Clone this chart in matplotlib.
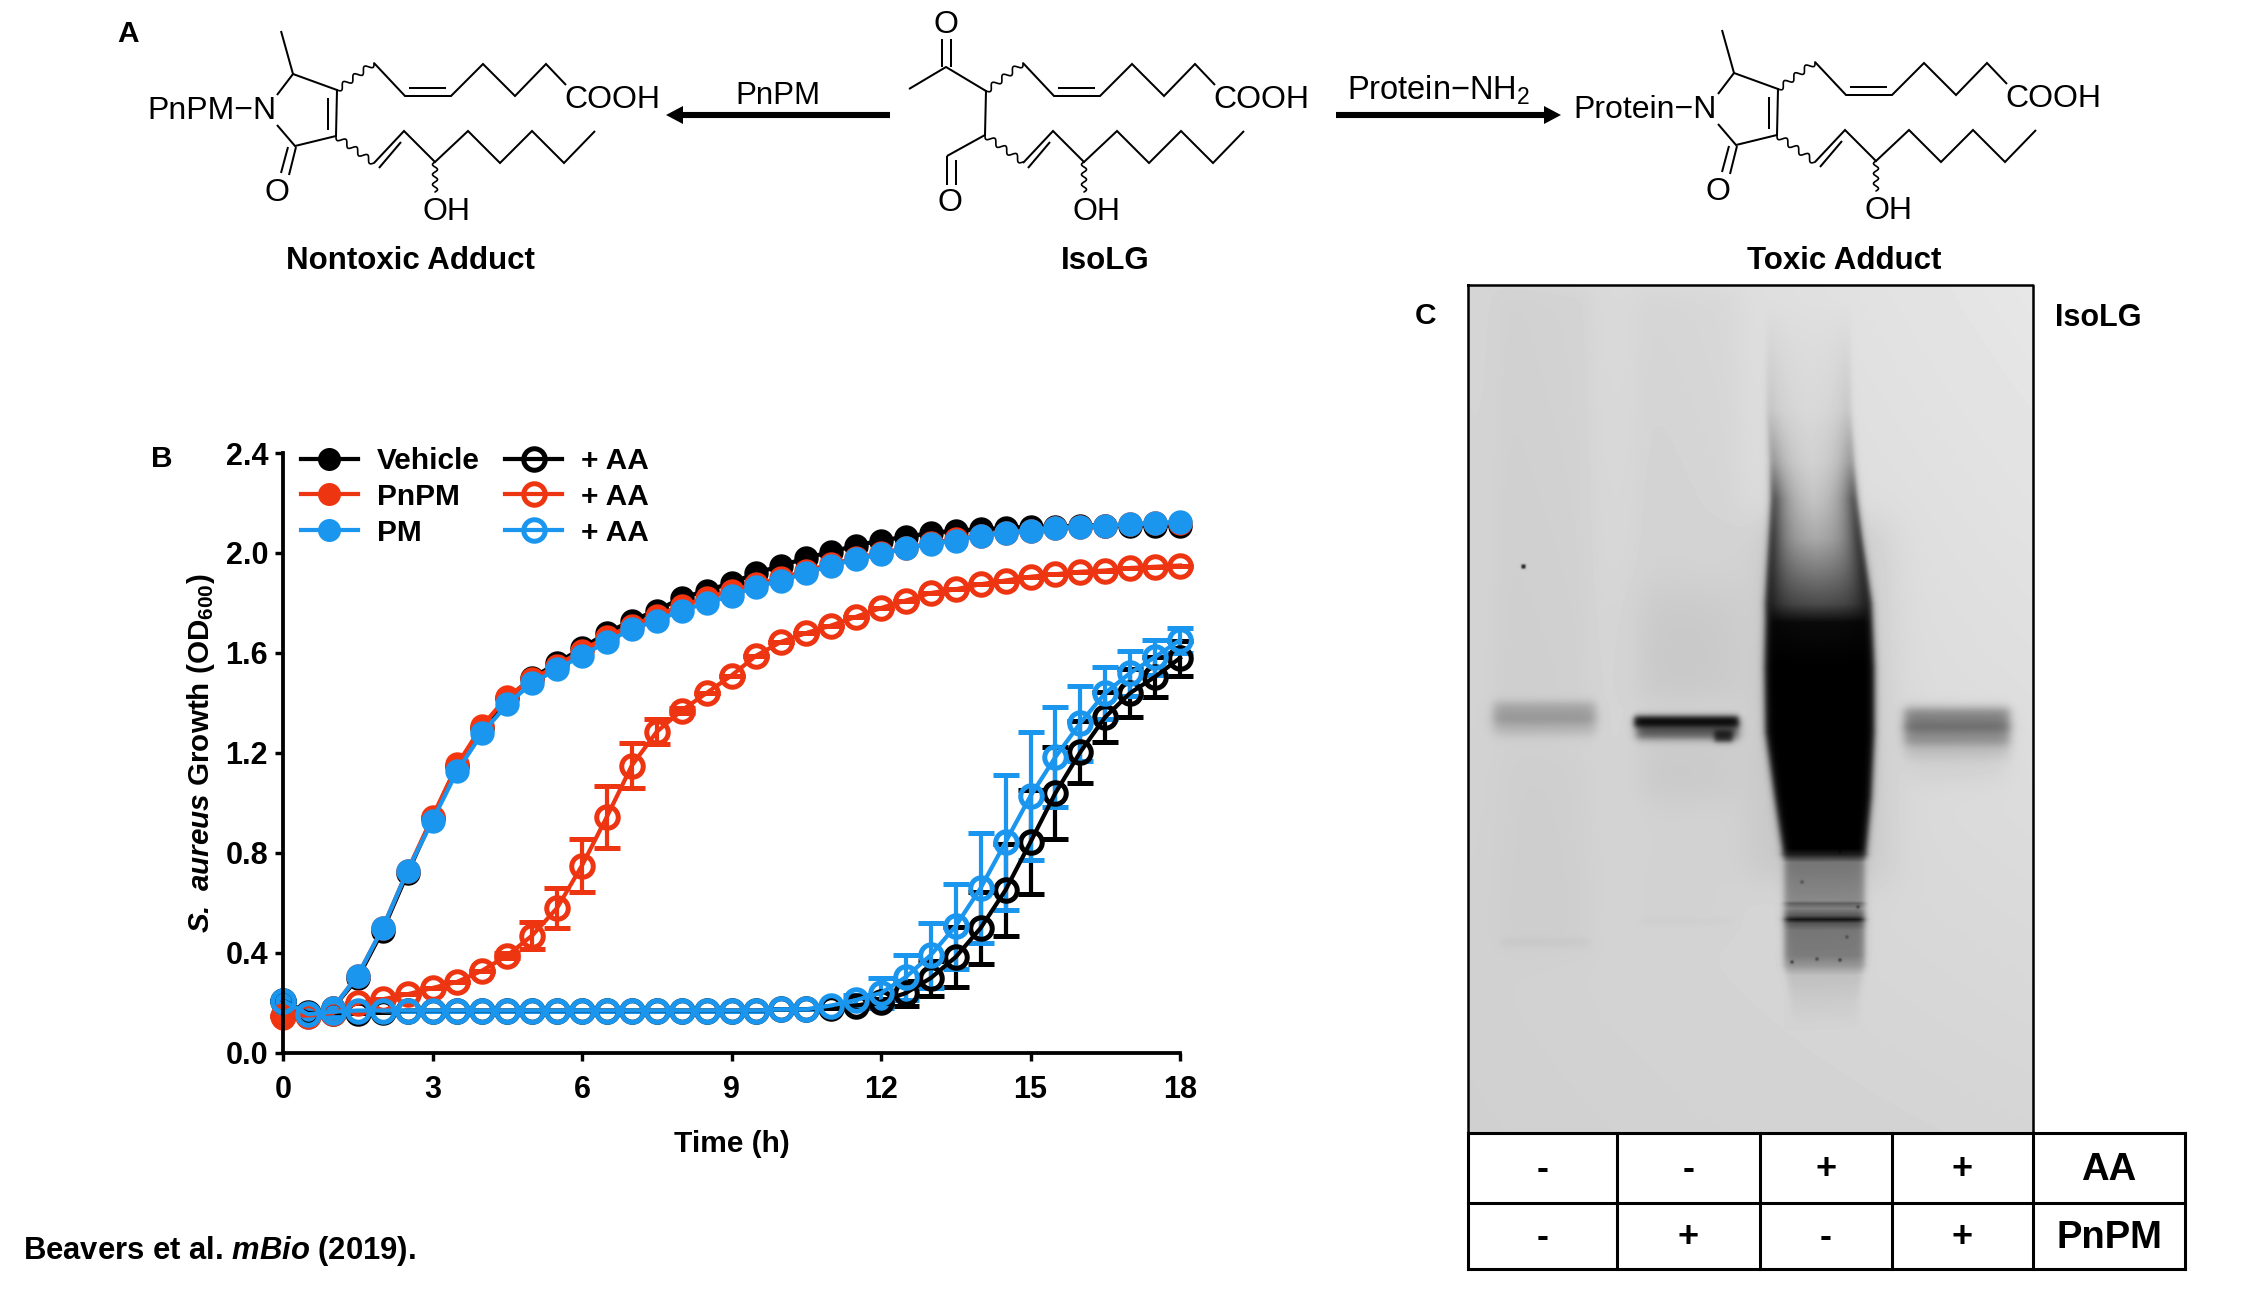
#!/usr/bin/env python3
"""Three panel figure: IsoLG chemistry (A), S. aureus growth curves (B), blot (C)."""

import numpy as np
import matplotlib
matplotlib.use("Agg")
import matplotlib.pyplot as plt
from matplotlib.lines import Line2D
from matplotlib.patches import Polygon

plt.rcParams["font.family"] = ["Liberation Sans", "DejaVu Sans"]
plt.rcParams["mathtext.fontset"] = "custom"
plt.rcParams["mathtext.rm"] = "Liberation Sans"
plt.rcParams["mathtext.bf"] = "Liberation Sans:bold"
plt.rcParams["mathtext.bfit"] = "Liberation Sans:italic:bold"
plt.rcParams["mathtext.it"] = "Liberation Sans:italic:bold"

W, H = 2250, 1291

# --------------------------------------------------------------------------
# Panel B data
# --------------------------------------------------------------------------

HOURS = [i * 0.5 for i in range(37)]

VEHICLE = [0.21, 0.15, 0.18, 0.30, 0.49, 0.72, 0.94, 1.15, 1.30, 1.42, 1.50, 1.56, 1.62,
           1.68, 1.73, 1.77, 1.82, 1.85, 1.88, 1.92, 1.95, 1.98, 2.005, 2.03, 2.05, 2.065,
           2.08, 2.09, 2.095, 2.10, 2.105, 2.105, 2.11, 2.11, 2.11, 2.11, 2.11]
PNPM = [0.14, 0.15, 0.18, 0.31, 0.50, 0.73, 0.945, 1.155, 1.31, 1.425, 1.495, 1.55, 1.61,
        1.665, 1.71, 1.75, 1.79, 1.82, 1.85, 1.875, 1.90, 1.93, 1.955, 1.98, 2.00, 2.02,
        2.04, 2.055, 2.07, 2.08, 2.09, 2.10, 2.105, 2.11, 2.115, 2.12, 2.12]
PM = [0.20, 0.145, 0.18, 0.31, 0.50, 0.73, 0.93, 1.13, 1.28, 1.395, 1.48, 1.535, 1.59,
      1.645, 1.695, 1.73, 1.77, 1.80, 1.83, 1.865, 1.89, 1.92, 1.95, 1.975, 1.995, 2.02,
      2.035, 2.05, 2.07, 2.08, 2.09, 2.10, 2.105, 2.11, 2.115, 2.12, 2.125]

VEHICLE_AA = [0.21, 0.16, 0.16, 0.16, 0.165, 0.17, 0.17, 0.17, 0.17, 0.17, 0.17, 0.17, 0.17,
              0.17, 0.17, 0.17, 0.17, 0.17, 0.17, 0.17, 0.175, 0.175, 0.18, 0.19, 0.205, 0.24,
              0.30, 0.384, 0.50, 0.652, 0.844, 1.04, 1.204, 1.344, 1.44, 1.505, 1.58]
VEHICLE_AA_ERR = [0, 0, 0, 0, 0, 0, 0, 0, 0, 0, 0, 0, 0, 0, 0, 0, 0, 0, 0, 0, 0, 0, 0, 0, 0.01,
                  0.05, 0.07, 0.12, 0.145, 0.185, 0.208, 0.185, 0.125, 0.10, 0.095, 0.08, 0.07]
PNPM_AA = [0.15, 0.15, 0.16, 0.20, 0.215, 0.235, 0.26, 0.285, 0.33, 0.39, 0.47, 0.58, 0.75,
           0.945, 1.15, 1.285, 1.37, 1.44, 1.51, 1.59, 1.645, 1.68, 1.71, 1.745, 1.78, 1.81,
           1.84, 1.855, 1.875, 1.89, 1.905, 1.915, 1.925, 1.93, 1.94, 1.945, 1.95]
PNPM_AA_ERR = [0, 0, 0, 0, 0, 0, 0, 0, 0, 0.01, 0.055, 0.08, 0.105, 0.125, 0.09, 0.05, 0.01,
               0, 0, 0, 0, 0, 0, 0, 0, 0, 0, 0, 0, 0, 0, 0, 0, 0, 0, 0, 0]
PM_AA = [0.21, 0.155, 0.165, 0.17, 0.17, 0.17, 0.17, 0.17, 0.17, 0.17, 0.17, 0.17, 0.17,
         0.17, 0.17, 0.17, 0.17, 0.17, 0.17, 0.17, 0.175, 0.175, 0.19, 0.212, 0.24, 0.304,
         0.392, 0.508, 0.66, 0.844, 1.028, 1.184, 1.32, 1.44, 1.52, 1.584, 1.652]
PM_AA_ERR = [0, 0, 0, 0, 0, 0, 0, 0, 0, 0, 0, 0, 0, 0, 0, 0, 0, 0, 0, 0, 0, 0, 0, 0.02, 0.06,
             0.09, 0.13, 0.17, 0.22, 0.27, 0.255, 0.20, 0.15, 0.105, 0.09, 0.07, 0.05]

X_TICKS = [0, 3, 6, 9, 12, 15, 18]
Y_TICKS = [0.0, 0.4, 0.8, 1.2, 1.6, 2.0, 2.4]

BLACK, RED, BLUE = "#000000", "#EE3512", "#1A96EE"

# Panel C table
TABLE_X = [1468, 1617, 1760, 1892, 2033, 2185]
TABLE_Y = [1133, 1203, 1269]
AA_SIGNS = ["-", "-", "+", "+"]
PNPM_SIGNS = ["-", "+", "-", "+"]

# Blot: x0, x1, y0, y1, darkness, edge softness (all in figure pixels)
BLOT_BOX = (1468, 2033, 285, 1133)
BLOT_BANDS = [
    (1495, 1590, 290, 700, 0.025, 12),
    (1636, 1738, 290, 700, 0.025, 14),
    (1500, 1590, 740, 950, 0.025, 22),
    (1640, 1735, 590, 705, 0.05, 28),
    (1640, 1735, 735, 800, 0.06, 20),
    (1640, 1735, 800, 930, 0.015, 20),
    (1500, 1590, 938, 946, 0.035, 4),
    (1640, 1735, 918, 924, 0.02, 3),
    (1910, 2005, 745, 780, 0.05, 14),
    (1745, 1890, 520, 880, 0.07, 22),
    (1493, 1595, 702, 722, 0.24, 6),
    (1493, 1595, 716, 734, 0.16, 7),
    (1634, 1738, 716, 726, 1.00, 3.5),
    (1636, 1738, 720, 738, 0.60, 5),
    (1714, 1732, 730, 741, 0.75, 3),
    (1904, 2009, 708, 730, 0.42, 6),
    (1904, 2009, 724, 744, 0.34, 6),
    (1904, 2009, 740, 758, 0.10, 7),
    # specks
    (1521, 1525, 564, 568, 0.85, 1),
    (1838, 1841, 850, 853, 0.6, 1),
    (1800, 1803, 880, 883, 0.4, 1),
    (1856, 1859, 905, 908, 0.5, 1),
    (1790, 1793, 960, 963, 0.6, 1),
    (1815, 1818, 957, 960, 0.5, 1),
    (1838, 1841, 958, 961, 0.6, 1),
    (1845, 1848, 935, 938, 0.4, 1),
]

# lane three smear: outline and darkness by row
SMEAR_Y = [300, 345, 409, 461, 499, 538, 570, 603, 622, 667, 732, 796, 848, 854, 862,
           900, 903, 908, 915, 919, 923, 930, 955, 965, 975, 1000, 1030]
SMEAR_L = [1767, 1767, 1767, 1770, 1771, 1769, 1767, 1765, 1765, 1764, 1765, 1774, 1782, 1782,
           1784, 1784, 1784, 1784, 1784, 1784, 1784, 1784, 1784, 1784, 1786, 1790, 1790]
SMEAR_R = [1849, 1849, 1850, 1853, 1856, 1861, 1866, 1871, 1872, 1874, 1874, 1871, 1866, 1866,
           1864, 1864, 1864, 1864, 1864, 1864, 1864, 1864, 1864, 1864, 1862, 1858, 1858]
SMEAR_CORE = [0.0, 0.01, 0.02, 0.04, 0.08, 0.16, 0.38, 0.62, 0.95, 1.0, 1.0, 1.0, 1.0, 0.85,
              0.42, 0.36, 0.55, 0.40, 0.60, 0.90, 0.60, 0.45, 0.42, 0.30, 0.10, 0.05, 0.0]
SMEAR_RIM = [0.0, 0.05, 0.14, 0.42, 0.85, 0.98, 1.0, 1.0, 1.0, 1.0, 1.0, 1.0, 1.0, 0.85,
             0.42, 0.36, 0.55, 0.40, 0.60, 0.90, 0.60, 0.45, 0.42, 0.30, 0.10, 0.05, 0.0]

# --------------------------------------------------------------------------
# Panel A structures, figure pixels: polylines and wavy bonds
# --------------------------------------------------------------------------

# two chains shared by all three molecules, placed by an x offset
UPPER_CHAIN = [(374, 63), (405, 96), (451, 96), (483, 64), (515, 96), (546, 64), (566, 85)]
UPPER_INNER = [(409, 88), (446, 88)]
LOWER_CHAIN = [(374, 163), (404, 131), (435, 162), (468, 131), (500, 163), (532, 131),
               (564, 163), (595, 131)]
LOWER_INNER = [(379, 168), (401, 142)]
OH_BOND = [(435, 162), (435, 192)]

# pyrrolinone ring for the adducts
RING = [(277, 95), (293, 74), (337, 90), (336, 136), (295, 146), (277, 125)]
RING_METHYL = [(281, 31), (293, 74)]
RING_INNER = [(328, 98), (328, 130)]
RING_CO_A = [(296, 147), (289, 175)]
RING_CO_B = [(288, 147), (281, 173)]
RING_WAVE_UP = [(337, 90), (374, 63)]
RING_WAVE_DOWN = [(336, 136), (374, 163)]

# open chain in the middle
ISO_BACKBONE = [(909, 89), (946, 67), (986, 91), (985, 135), (947, 156)]
ISO_KETO_A = [(942, 67), (942, 39)]
ISO_KETO_B = [(951, 67), (951, 39)]
ISO_ALD_A = [(947, 156), (947, 185)]
ISO_ALD_B = [(956, 160), (956, 185)]
ISO_WAVE_UP = [(986, 91), (1023, 63)]
ISO_WAVE_DOWN = [(985, 135), (1023, 162)]

ISO_DX = 649
TOXIC_DX = 1441
STRUCT_FS = 23


def wavy(ov, seg, dx=0, dy=0, waves=3.5, amp=3.0):
    (x0, y0), (x1, y1) = seg
    t = np.linspace(0, 1, 120)
    length = np.hypot(x1 - x0, y1 - y0)
    nx, ny = -(y1 - y0) / length, (x1 - x0) / length
    off = amp * np.sin(2 * np.pi * waves * t)
    ov.plot(x0 + dx + (x1 - x0) * t + nx * off, y0 + dy + (y1 - y0) * t + ny * off,
            color="k", lw=1.2, solid_capstyle="round")


def bond(ov, pts, dx=0, dy=0):
    xs = [p[0] + dx for p in pts]
    ys = [p[1] + dy for p in pts]
    ov.plot(xs, ys, color="k", lw=1.45, solid_joinstyle="miter", solid_capstyle="butt")


def draw_chains(ov, dx, dy=0):
    for pts in (UPPER_CHAIN, UPPER_INNER, LOWER_CHAIN, LOWER_INNER):
        bond(ov, pts, dx, dy)
    wavy(ov, OH_BOND, dx, dy, waves=3.0, amp=2.5)
    ov.text(566 + dx - 2, 100 + dy, "COOH", fontsize=STRUCT_FS, ha="left", va="center")
    ov.text(447 + dx, 212 + dy, "OH", fontsize=STRUCT_FS, ha="center", va="center")


def draw_ring(ov, dx, dy, n_text):
    for pts in (RING, RING_METHYL, RING_INNER, RING_CO_A, RING_CO_B):
        bond(ov, pts, dx, dy)
    wavy(ov, RING_WAVE_UP, dx, dy)
    wavy(ov, RING_WAVE_DOWN, dx, dy)
    ov.text(277 + dx, 193 + dy, "O", fontsize=STRUCT_FS, ha="center", va="center")
    ov.text(276 + dx, 111 + dy, n_text, fontsize=STRUCT_FS, ha="right", va="center")


def draw_arrow(ov, x_tail, x_tip, y):
    sign = 1 if x_tip > x_tail else -1
    neck = x_tip - sign * 17
    ov.plot([x_tail, neck], [y, y], color="k", lw=4.4, solid_capstyle="butt")
    ov.add_patch(Polygon([(x_tip, y), (neck, y - 9), (neck, y + 9)], closed=True,
                         facecolor="k", edgecolor="none"))


def draw_blot(ov):
    x0, x1, y0, y1 = BLOT_BOX
    xs, ys = np.meshgrid(np.arange(x0, x1), np.arange(y0, y1))
    u = (xs - x0) / (x1 - x0)
    v = (ys - y0) / (y1 - y0)
    img = 0.835 + 0.07 * u * (1 - v) + 0.02 * v * u - 0.02 * v
    for bx0, bx1, by0, by1, dark, soft in BLOT_BANDS:
        box = (0.5 * (np.tanh((xs - bx0) / soft) - np.tanh((xs - bx1) / soft))
               * 0.5 * (np.tanh((ys - by0) / soft) - np.tanh((ys - by1) / soft)))
        img = img * (1 - dark * box)

    # the overloaded lane
    left = np.interp(ys, SMEAR_Y, SMEAR_L)
    right = np.interp(ys, SMEAR_Y, SMEAR_R)
    core = np.interp(ys, SMEAR_Y, SMEAR_CORE)
    rim = np.interp(ys, SMEAR_Y, SMEAR_RIM)
    mask = 0.5 * (np.tanh((xs - left) / 4.0) - np.tanh((xs - right) / 4.0))
    edge = np.exp(-np.clip(np.minimum(xs - left, right - xs), 0, None) / 13.0)
    img = img * (1 - (core + (rim - core) * edge) * mask)

    ov.imshow(img, cmap="gray", vmin=0, vmax=1, extent=(x0, x1, y1, y0),
              aspect="auto", interpolation="bilinear", zorder=1)


fig = plt.figure(figsize=(W / 100, H / 100), dpi=100, facecolor="white")

# overlay in figure pixels for panel A, panel C and loose text
ov = fig.add_axes([0, 0, 1, 1])
ov.set_xlim(0, W)
ov.set_ylim(H, 0)
ov.axis("off")

# --- Panel A ---
draw_chains(ov, 0)
draw_ring(ov, 0, 0, "PnPM\u2212N")
draw_chains(ov, ISO_DX)
for pts in (ISO_BACKBONE, ISO_KETO_A, ISO_KETO_B, ISO_ALD_A, ISO_ALD_B):
    bond(ov, pts)
wavy(ov, ISO_WAVE_UP)
wavy(ov, ISO_WAVE_DOWN)
ov.text(946, 25, "O", fontsize=STRUCT_FS, ha="center", va="center")
ov.text(950, 203, "O", fontsize=STRUCT_FS, ha="center", va="center")
draw_chains(ov, TOXIC_DX, -1)
draw_ring(ov, TOXIC_DX, -1, "Protein\u2212N")

draw_arrow(ov, 890, 666, 115)
draw_arrow(ov, 1336, 1561, 115)
ov.text(778, 96, "PnPM", fontsize=22.5, ha="center", va="center")
ov.text(1347, 90, "Protein\u2212NH$_{\\mathrm{2}}$", fontsize=23.5, ha="left", va="center")

ov.text(410, 261, "Nontoxic Adduct", fontsize=22.5, weight="bold", ha="center", va="center")
ov.text(1105, 261, "IsoLG", fontsize=22.5, weight="bold", ha="center", va="center")
ov.text(1844, 261, "Toxic Adduct", fontsize=22.5, weight="bold", ha="center", va="center")

ov.text(128, 34, "A", fontsize=21.5, weight="bold", ha="center", va="center")
ov.text(162, 459, "B", fontsize=21.5, weight="bold", ha="center", va="center")
ov.text(1425, 316, "C", fontsize=21.5, weight="bold", ha="center", va="center")
ov.text(2098, 318, "IsoLG", fontsize=22, weight="bold", ha="center", va="center")
ov.text(23, 1251, "Beavers et al. $\\mathbfit{mBio}$ (2019).", fontsize=22.3, weight="bold",
        ha="left", va="center")

# --- Panel C ---
draw_blot(ov)
ov.set_xlim(0, W)
ov.set_ylim(H, 0)
x0, x1, y0, y1 = BLOT_BOX
ov.plot([x0, x1, x1, x0, x0], [y0, y0, y1, y1, y0], color="k", lw=1.8, zorder=3)
for x in TABLE_X:
    ov.plot([x, x], [TABLE_Y[0], TABLE_Y[-1]], color="k", lw=2.2, zorder=3)
for y in TABLE_Y:
    ov.plot([TABLE_X[0], TABLE_X[-1]], [y, y], color="k", lw=2.2, zorder=3)
for row, signs in enumerate((AA_SIGNS, PNPM_SIGNS)):
    yc = (TABLE_Y[row] + TABLE_Y[row + 1]) / 2 + 2
    for col, sign in enumerate(signs):
        xc = (TABLE_X[col] + TABLE_X[col + 1]) / 2
        ov.text(xc, yc, sign, fontsize=26, weight="bold", ha="center", va="center", zorder=4)
xc = (TABLE_X[4] + TABLE_X[5]) / 2
ov.text(xc, (TABLE_Y[0] + TABLE_Y[1]) / 2 + 2, "AA", fontsize=27.5, weight="bold",
        ha="center", va="center", zorder=4)
ov.text(xc, (TABLE_Y[1] + TABLE_Y[2]) / 2 + 2, "PnPM", fontsize=27.5, weight="bold",
        ha="center", va="center", zorder=4)

# --- Panel B ---
ax = fig.add_axes([283 / W, (H - 1053) / H, 897 / W, 600 / H])
ax.patch.set_alpha(0)

PX = 0.72
open_kw = dict(marker="o", ms=21.5 * PX, mfc="none", mew=5 * PX, lw=4.2 * PX,
               capsize=13 * PX, capthick=4.2 * PX, elinewidth=4.2 * PX, clip_on=False)
for vals, errs, color in ((VEHICLE_AA, VEHICLE_AA_ERR, BLACK),
                          (PNPM_AA, PNPM_AA_ERR, RED),
                          (PM_AA, PM_AA_ERR, BLUE)):
    conts = ax.errorbar(HOURS, vals, yerr=errs, color=color, mec=color, **open_kw)
    for part in conts[1] + conts[2]:
        part.set_clip_on(False)

filled_kw = dict(marker="o", ms=23 * PX, lw=4.2 * PX, clip_on=False)
ax.plot(HOURS, VEHICLE, color=BLACK, **filled_kw)
ax.plot(HOURS, PNPM, color="#F53510", **filled_kw)
ax.plot(HOURS, PM, color=BLUE, **filled_kw)

ax.set_xlim(0, 18)
ax.set_ylim(0, 2.4)
ax.set_xticks(X_TICKS)
ax.set_yticks(Y_TICKS)
ax.set_yticklabels([f"{t:.1f}" for t in Y_TICKS])
ax.tick_params(length=8 * PX, width=3.4 * PX, labelsize=22)
ax.tick_params(axis="x", pad=10)
ax.tick_params(axis="y", pad=5)
for lab in ax.get_xticklabels() + ax.get_yticklabels():
    lab.set_fontweight("bold")
for side in ("top", "right"):
    ax.spines[side].set_visible(False)
for side in ("left", "bottom"):
    ax.spines[side].set_linewidth(3.8 * PX)

ax.set_xlabel("Time (h)", fontsize=21.5, fontweight="bold", labelpad=18)
ax.set_ylabel("$\\mathbfit{S.\\ aureus}$ Growth (OD$_{\\mathbf{600}}$)", fontsize=21.3,
              fontweight="bold", labelpad=6, y=0.5)

handles = []
for color, mfc in ((BLACK, BLACK), (RED, RED), (BLUE, BLUE), (BLACK, "none"), (RED, "none"),
                   (BLUE, "none")):
    handles.append(Line2D([0], [0], color=color, lw=4.2 * PX, marker="o", mfc=mfc, mec=color,
                          mew=(5 if mfc == "none" else 0) * PX,
                          ms=(21.5 if mfc == "none" else 23) * PX))
labels = ["Vehicle", "PnPM", "PM", "+ AA", "+ AA", "+ AA"]
ax.legend(handles, labels, ncol=2, frameon=False, loc="upper left",
          bbox_to_anchor=(0.02, 1.01), borderpad=0, borderaxespad=0,
          handlelength=1.9, handletextpad=0.65, columnspacing=0.85, labelspacing=0.26,
          prop={"size": 21.5, "weight": "bold"})

fig.savefig("out.png", dpi=100)
